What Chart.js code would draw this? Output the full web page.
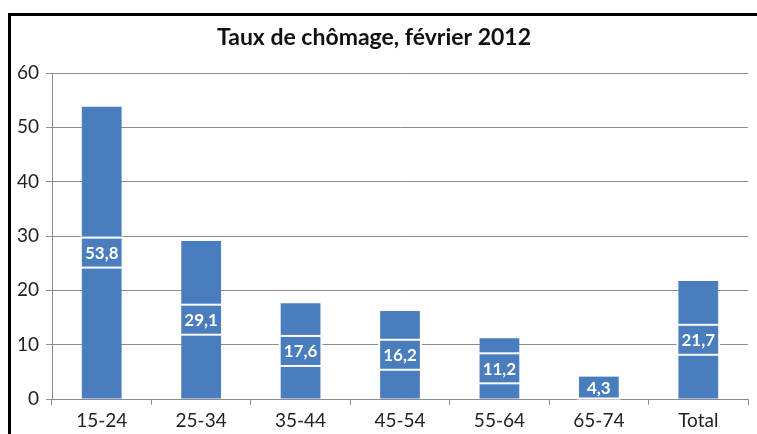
<!DOCTYPE html>
<html><head><meta charset="utf-8">
<script src="https://cdn.jsdelivr.net/npm/chart.js@4/dist/chart.umd.min.js"></script>
<style>
html,body{margin:0;padding:0;background:#fff;overflow:hidden;}
#wrap{position:relative;width:757px;height:434px;overflow:hidden;}
#frame{position:absolute;left:8px;top:13px;width:1000px;height:800px;border:3px solid #000;box-sizing:border-box;pointer-events:none;}
canvas{position:absolute;left:0;top:0;}
</style></head><body>
<div id="wrap"><canvas id="c" width="757" height="434"></canvas><div id="frame"></div></div>
<script>
const categories = ['15-24','25-34','35-44','45-54','55-64','65-74','Total'];
const values = [53.8, 29.1, 17.6, 16.2, 11.2, 4.3, 21.7];
const valueLabels = ['53,8','29,1','17,6','16,2','11,2','4,3','21,7'];
const titleText = 'Taux de chômage, février 2012';
const barColor = '#4a7dbd';
const FONT = 'Lato, "Open Sans", sans-serif';

const labelPlugin = {
  id: 'boxLabels',
  afterDatasetsDraw(chart) {
    const ctx = chart.ctx;
    const meta = chart.getDatasetMeta(0);
    meta.data.forEach((bar, i) => {
      const p = bar.getProps(['x','y','base','width'], true);
      const cy = (p.y + p.base) / 2;
      const h = 30;
      let top = Math.max(cy - h/2, p.y);
      let bot = Math.min(cy + h/2, p.base);
      const left = p.x - p.width/2 - 1;
      const w = p.width + 2;
      ctx.save();
      ctx.fillStyle = barColor;
      ctx.fillRect(left, top, w, bot - top);
      ctx.strokeStyle = '#ffffff';
      ctx.lineWidth = 2;
      ctx.strokeRect(left, top, w, bot - top);
      ctx.fillStyle = '#ffffff';
      ctx.font = 'bold 17px ' + FONT;
      ctx.textAlign = 'center';
      ctx.textBaseline = 'middle';
      ctx.fillText(valueLabels[i], p.x, (top + bot)/2 + 1);
      ctx.restore();
    });
  }
};

new Chart(document.getElementById('c'), {
  type: 'bar',
  data: { labels: categories, datasets: [{ data: values, backgroundColor: barColor, borderWidth: 0, barPercentage: 0.8, categoryPercentage: 0.5 }] },
  options: {
    responsive: false, animation: false,
    layout: { padding: { left: 0, right: 9, top: 0, bottom: 0 } },
    plugins: {
      legend: { display: false }, tooltip: { enabled: false },
      title: { display: true, text: titleText, color: '#111', font: { family: FONT, size: 23, weight: 'bold' }, padding: { top: 24, bottom: 21.4 } }
    },
    scales: {
      x: {
        grid: { offset: true, drawOnChartArea: false, drawTicks: true, tickLength: 6, color: '#8c8c8c' },
        border: { color: '#8c8c8c', width: 1 },
        ticks: { color: '#222', font: { family: FONT, size: 19 }, padding: 4 },
        afterFit(s) { s.height = 35; }
      },
      y: {
        min: 0, max: 60,
        ticks: { stepSize: 10, color: '#222', font: { family: FONT, size: 19 }, padding: 7 },
        grid: { color: '#8c8c8c', tickLength: 6 },
        border: { color: '#8c8c8c', width: 1 },
        afterFit(s) { s.width = 52; }
      }
    }
  },
  plugins: [labelPlugin]
});
</script>
</body></html>
